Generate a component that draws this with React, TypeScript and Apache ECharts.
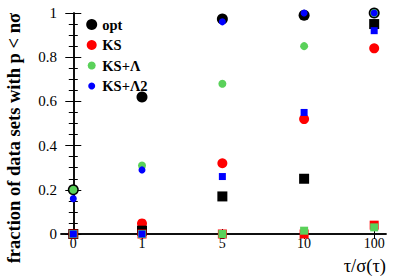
import React, { useEffect, useRef } from "react";
import * as echarts from "echarts";

// x categories (tau / sigma(tau)) and their positions along the axis
const xLabels = ["0", "1", "5", "10", "100"];
const xPos = [0, 1, 2.17, 3.36, 4.38];

// circles
const optCircle = [0.2, 0.62, 0.973, 0.99, 1.0];
const ksCircle = [0.0, 0.048, 0.32, 0.52, 0.84];
const lamCircle = [0.2, 0.31, 0.68, 0.85, 1.0];
const lam2Circle = [0.16, 0.29, 0.96, 1.0, 1.0];

// squares
const optSquare = [0.0, 0.015, 0.17, 0.25, 0.95];
const ksSquare = [0.0, 0.0, 0.0, 0.0, 0.04];
const lamSquare = [0.0, 0.0, 0.0, 0.015, 0.03];
const lam2Square = [0.0, 0.0, 0.26, 0.55, 0.92];

const yTicks = [0, 0.2, 0.4, 0.6, 0.8, 1];

const names = ["opt", "KS", "KS+Λ", "KS+Λ2"];
const colors = ["#000000", "#ff0000", "#5ad15a", "#0000ff"];
const circleSizes = [11, 10, 8, 7];
const squareSizes = [10, 9, 8, 7];

const FONT = "Liberation Serif";

export default function App() {
  const ref = useRef<HTMLDivElement>(null);
  useEffect(() => {
    if (!ref.current) return;
    const chart = echarts.init(ref.current, undefined, { renderer: "svg" });
    const pts = (vals: number[]) => vals.map((v, i) => [xPos[i], v]);
    const circles = [optCircle, ksCircle, lamCircle, lam2Circle];
    const squares = [optSquare, ksSquare, lamSquare, lam2Square];
    const series: any[] = [];
    circles.forEach((vals, k) => {
      series.push({
        type: "scatter",
        name: names[k],
        data: pts(vals),
        symbol: "circle",
        symbolSize: circleSizes[k],
        itemStyle: { color: colors[k], opacity: 1 },
        xAxisIndex: 0,
        yAxisIndex: 0,
      });
    });
    squares.forEach((vals, k) => {
      series.push({
        type: "scatter",
        name: names[k] + " (squares)",
        data: pts(vals),
        symbol: "rect",
        symbolSize: squareSizes[k],
        itemStyle: { color: colors[k], opacity: 1 },
        xAxisIndex: 0,
        yAxisIndex: 0,
      });
    });

    const xMin = -0.179;
    const xMax = 4.552;
    const labelFor = (v: number) => {
      let best = 0;
      for (let i = 0; i < xPos.length; i++) {
        if (Math.abs(xPos[i] - v) < Math.abs(xPos[best] - v)) best = i;
      }
      return xLabels[best];
    };
    const axisLine = { show: true, lineStyle: { color: "#000", width: 1.5 } };

    const legendTops = [17, 37.5, 58, 78.5];
    const legends = names.map((n, k) => ({
      show: true,
      data: [{ name: n, icon: "circle" }],
      left: 91.7 - circleSizes[k] / 2,
      top: legendTops[k],
      padding: 0,
      itemWidth: circleSizes[k],
      itemHeight: circleSizes[k],
      itemGap: 0,
      selectedMode: false,
      textStyle: {
        fontFamily: FONT,
        fontWeight: "bold",
        fontSize: 14.5,
        color: "#000",
        padding: [0, 0, 0, 102.3 - (91.7 + circleSizes[k] / 2) - 5],
      },
    }));

    chart.setOption({
      animation: false,
      backgroundColor: "#fff",
      grid: { left: 61, right: 21, top: 13, bottom: 42, containLabel: false },
      legend: legends,
      xAxis: [
        {
          type: "value",
          position: "bottom",
          min: xMin,
          max: xMax,
          axisLine,
          splitLine: { show: false },
          axisTick: { show: true, inside: true, length: 5, customValues: xPos, lineStyle: { color: "#000", width: 1 } },
          axisLabel: {
            show: true,
            customValues: xPos,
            formatter: (v: number) => labelFor(v),
            fontFamily: FONT,
            fontSize: 14,
            color: "#000",
            margin: 2,
          },
        },
        {
          type: "value",
          position: "top",
          min: xMin,
          max: xMax,
          axisLine,
          splitLine: { show: false },
          axisTick: { show: true, inside: true, length: 5, customValues: xPos, lineStyle: { color: "#000", width: 1 } },
          axisLabel: { show: false },
        },
      ],
      yAxis: [
        {
          type: "value",
          position: "left",
          min: 0,
          max: 1,
          interval: 0.2,
          axisLine,
          splitLine: { show: false },
          axisTick: { show: true, inside: true, length: 8, lineStyle: { color: "#000", width: 1 } },
          minorTick: { show: true, splitNumber: 4, length: 4.5, lineStyle: { color: "#000", width: 1 } },
          axisLabel: {
            show: true,
            customValues: yTicks,
            fontFamily: FONT,
            fontSize: 15,
            color: "#000",
            margin: 4,
          },
        },
        {
          type: "value",
          position: "right",
          min: 0,
          max: 1,
          interval: 0.2,
          axisLine,
          splitLine: { show: false },
          axisTick: { show: true, inside: true, length: 8, lineStyle: { color: "#000", width: 1 } },
          minorTick: { show: true, splitNumber: 4, length: 4.5, lineStyle: { color: "#000", width: 1 } },
          axisLabel: { show: false },
        },
      ],
      graphic: [
        {
          type: "text",
          x: 14,
          y: 13,
          rotation: Math.PI / 2,
          style: {
            text: "fraction of data sets with p < nσ",
            fontFamily: FONT,
            fontWeight: "bold",
            fontSize: 18.5,
            fill: "#000",
            align: "right",
            verticalAlign: "middle",
          },
        },
        {
          type: "text",
          x: 386,
          y: 266,
          style: {
            text: "τ/σ(τ)",
            fontFamily: FONT,
            fontSize: 18.5,
            fill: "#000",
            align: "right",
            verticalAlign: "middle",
          },
        },
      ],
      series,
    });
    return () => chart.dispose();
  }, []);
  return (
    <div
      ref={ref}
      style={{ position: "absolute", left: 0, top: 0, width: 407, height: 276 }}
    />
  );
}
